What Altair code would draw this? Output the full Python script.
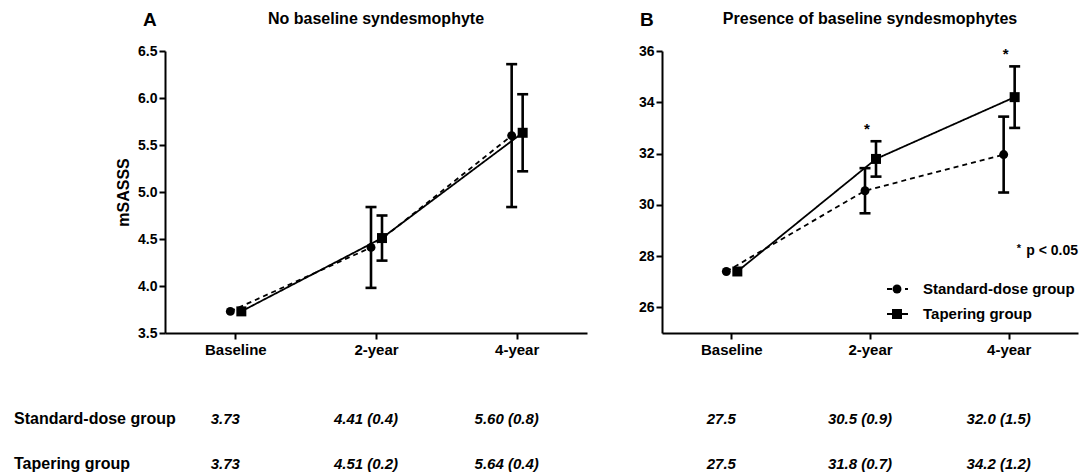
import altair as alt
import pandas as pd

FONT = "Liberation Sans"

times = ["Baseline", "2-year", "4-year"]
groups = ["Standard-dose group", "Tapering group"]

# Panel A: no baseline syndesmophyte (mean, error-bar half width)
a_std_mean = [3.73, 4.41, 5.60]
a_std_err = [0.0, 0.43, 0.76]
a_tap_mean = [3.73, 4.51, 5.63]
a_tap_err = [0.0, 0.24, 0.41]

# Panel B: presence of baseline syndesmophytes
b_std_mean = [27.4, 30.55, 31.96]
b_std_err = [0.0, 0.88, 1.48]
b_tap_mean = [27.4, 31.79, 34.2]
b_tap_err = [0.0, 0.69, 1.2]

# Table under the plots
a_std_table = ["3.73", "4.41 (0.4)", "5.60 (0.8)"]
a_tap_table = ["3.73", "4.51 (0.2)", "5.64 (0.4)"]
b_std_table = ["27.5", "30.5 (0.9)", "32.0 (1.5)"]
b_tap_table = ["27.5", "31.8 (0.7)", "34.2 (1.2)"]

b_sig_times = ["2-year", "4-year"]

a_yticks = [3.5, 4.0, 4.5, 5.0, 5.5, 6.0, 6.5]
b_yticks = [26, 28, 30, 32, 34, 36]


def frame(mean, err):
    return pd.DataFrame({
        "time": times,
        "mean": mean,
        "lo": [m - e for m, e in zip(mean, err)],
        "hi": [m + e for m, e in zip(mean, err)],
        "err": err,
    })


def panel(std_mean, std_err, tap_mean, tap_err, std_tab, tap_tab,
          width, height, ydom, yvals, yfmt, ytitle, letter, title,
          extra=None, row_labels=False):
    std = frame(std_mean, std_err)
    tap = frame(tap_mean, tap_err)
    x = alt.X("time:N", sort=times,
              scale=alt.Scale(type="point", domain=times, padding=0.5),
              axis=alt.Axis(title=None, labelAngle=0, labelFont=FONT, labelFontSize=15,
                            labelFontWeight="bold", labelColor="black", labelPadding=3,
                            domainColor="black", domainWidth=2, tickColor="black",
                            tickWidth=2, tickSize=6, grid=False))
    common = dict(values=yvals, format=yfmt, labelFont=FONT, labelFontSize=14,
                  labelFontWeight="bold", labelColor="black", labelPadding=2,
                  domainColor="black", domainWidth=2, tickColor="black", tickWidth=2,
                  tickSize=6, grid=False)
    if ytitle:
        y_axis = alt.Axis(title=ytitle, titleFont=FONT, titleFontSize=16,
                          titleFontWeight="bold", titleColor="black", titlePadding=6,
                          **common)
    else:
        y_axis = alt.Axis(title=None, **common)
    yscale = alt.Scale(domain=ydom, nice=False, zero=False)
    y = alt.Y("mean:Q", scale=yscale, axis=y_axis)

    layers = []
    off = {"std": -5, "tap": 6}
    for key, df, dash in (("std", std, [5, 4]), ("tap", tap, [1, 0])):
        layers.append(alt.Chart(df).mark_line(color="black", strokeWidth=1.8,
                                              strokeDash=dash, xOffset=off[key])
                      .encode(x=x, y=y))
    for key, df in (("std", std), ("tap", tap)):
        eb = alt.Chart(df).transform_filter("datum.err > 0")
        layers.append(eb.mark_rule(color="black", strokeWidth=2.6, opacity=1,
                                   xOffset=off[key])
                      .encode(x=x, y=alt.Y("lo:Q", scale=yscale), y2="hi:Q"))
        for col in ("lo", "hi"):
            layers.append(eb.mark_tick(color="black", orient="horizontal", size=11,
                                       thickness=2.6, opacity=1, xOffset=off[key])
                          .encode(x=x, y=alt.Y(f"{col}:Q", scale=yscale)))
    layers.append(alt.Chart(std).mark_point(shape="circle", filled=True, color="black",
                                            size=80, opacity=1, xOffset=off["std"])
                  .encode(x=x, y=y))
    layers.append(alt.Chart(tap).mark_point(shape="square", filled=True, color="black",
                                            size=100, opacity=1, xOffset=off["tap"])
                  .encode(x=x, y=y))

    # titles
    one = alt.Data(values=[{"k": 0}])
    layers.append(alt.Chart(one).mark_text(text=letter, font=FONT, fontSize=19,
                                           fontWeight="bold", align="left",
                                           baseline="alphabetic", color="black")
                  .encode(x=alt.value(-22), y=alt.value(-25)))
    layers.append(alt.Chart(one).mark_text(text=title, font=FONT, fontSize=16,
                                           fontWeight="bold", align="center",
                                           baseline="alphabetic", color="black")
                  .encode(x=alt.value(width / 2), y=alt.value(-27)))

    # table rows
    for idx, (tab, ypix) in enumerate(((std_tab, 368), (tap_tab, 413))):
        tdf = pd.DataFrame({"time": times, "label": tab})
        layers.append(alt.Chart(tdf).mark_text(font=FONT, fontSize=15, fontWeight="bold",
                                               fontStyle="italic", align="center",
                                               baseline="middle", color="black", dx=-10)
                      .encode(x=x, y=alt.value(ypix), text="label:N"))
        if row_labels:
            layers.append(alt.Chart(one).mark_text(text=groups[idx], font=FONT, fontSize=16,
                                                   fontWeight="bold", align="left",
                                                   baseline="middle", color="black")
                          .encode(x=alt.value(-151), y=alt.value(ypix)))
    if extra:
        layers.extend(extra(x, yscale, tap))
    return alt.layer(*layers).properties(width=width, height=height)


def b_extra(x, yscale, tap):
    out = []
    sig = tap[tap["time"].isin(b_sig_times)]
    out.append(alt.Chart(sig).mark_text(text="*", font=FONT, fontSize=15, fontWeight="bold",
                                        baseline="middle", color="black", dy=-12, xOffset=-3)
               .encode(x=x, y=alt.Y("hi:Q", scale=yscale)))
    one = alt.Data(values=[{"k": 0}])
    # p-value note
    out.append(alt.Chart(one).mark_text(text="p < 0.05", font=FONT, fontSize=14,
                                        fontWeight="bold", align="right", baseline="middle",
                                        color="black")
               .encode(x=alt.value(416), y=alt.value(200)))
    out.append(alt.Chart(one).mark_text(text="*", font=FONT, fontSize=11,
                                        fontWeight="bold", align="center", baseline="middle",
                                        color="black")
               .encode(x=alt.value(357), y=alt.value(198)))
    # legend
    for lab, ypix, dash, shape, size in ((groups[0], 238, [5, 4], "circle", 80),
                                          (groups[1], 263, [1, 0], "square", 100)):
        out.append(alt.Chart(one).mark_rule(color="black", strokeWidth=2, strokeDash=dash)
                   .encode(x=alt.value(225), x2=alt.value(246), y=alt.value(ypix)))
        out.append(alt.Chart(one).mark_point(shape=shape, filled=True, color="black",
                                             size=size, opacity=1)
                   .encode(x=alt.value(235), y=alt.value(ypix)))
        out.append(alt.Chart(one).mark_text(text=lab, font=FONT, fontSize=15,
                                            fontWeight="bold", align="left",
                                            baseline="middle", color="black")
                   .encode(x=alt.value(261), y=alt.value(ypix)))
    return out


panel_a = panel(a_std_mean, a_std_err, a_tap_mean, a_tap_err, a_std_table, a_tap_table,
                422, 282, [3.5, 6.5], a_yticks, ".1f", "mSASSS", "A",
                "No baseline syndesmophyte", row_labels=True)
panel_b = panel(b_std_mean, b_std_err, b_tap_mean, b_tap_err, b_std_table, b_tap_table,
                416, 282, [25, 36], b_yticks, "d", None, "B",
                "Presence of baseline syndesmophytes", extra=b_extra)

chart = alt.hconcat(panel_a, panel_b, spacing=51).properties(
    padding={"left": 14, "top": 11, "right": 5, "bottom": 0},
    background="white",
).configure_view(stroke=None)

chart.save("out.html", embed_options={"renderer": "svg", "actions": False})
